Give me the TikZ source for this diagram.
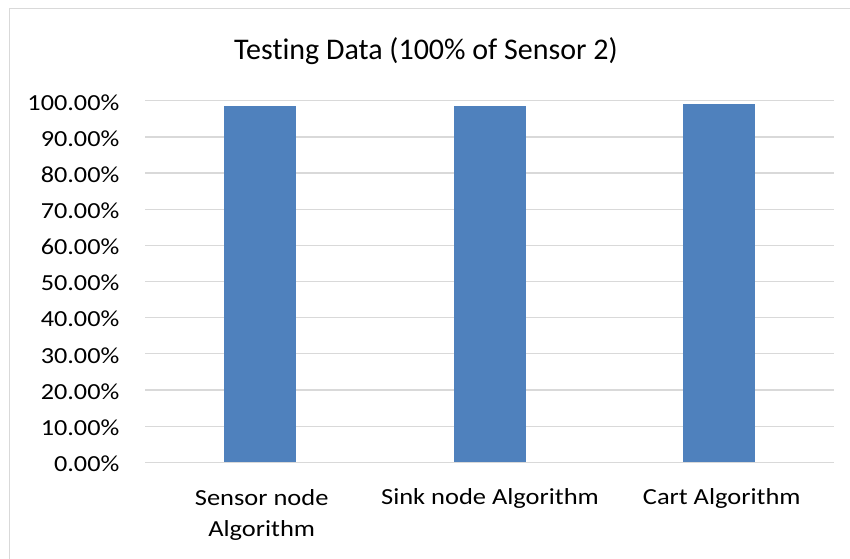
\documentclass[tikz,border=0pt]{standalone}
\usepackage{fontspec}
\setmainfont[Ligatures=NoCommon]{Carlito}
\newfontfamily\ticfont[Ligatures=NoCommon,FakeStretch=1.14]{Carlito}
\newfontfamily\catfont[Ligatures=NoCommon,FakeStretch=1.15]{Carlito}
\definecolor{barblue}{HTML}{4F81BD}
\definecolor{gridgray}{HTML}{D9D9D9}
\begin{document}
\begin{tikzpicture}[x=1pt,y=-1pt,
  grid/.style={draw=gridgray,line width=1.3pt},
  bar/.style={fill=barblue,draw=none},
  tick/.style={anchor=base east,inner sep=0pt,font=\ticfont\fontsize{23}{27}\selectfont},
  cat/.style={anchor=base,inner sep=0pt,font=\catfont\fontsize{23}{27}\selectfont},
  title/.style={anchor=base,inner sep=0pt,font=\fontsize{30}{34}\selectfont}]
\useasboundingbox (0,0) rectangle (850,558);
\fill[white] (0,0) rectangle (850,558);
\draw[draw=gridgray,line width=1.3pt] (9.5,600) -- (9.5,8.5) -- (900,8.5);
% gridlines and tick labels
\foreach \i/\lab in {0/0.00,1/10.00,2/20.00,3/30.00,4/40.00,5/50.00,6/60.00,7/70.00,8/80.00,9/90.00,10/100.00}{
  \pgfmathsetmacro{\yy}{462.3-36.16*\i}
  \draw[grid] (145,\yy) -- (834,\yy);
  \node[tick] (t\i) at (119.5,\yy+9.3) {\lab\%};
}
% bars
\fill[bar] (224,462.3) rectangle (296,106);
\fill[bar] (453.5,462.3) rectangle (525.5,106);
\fill[bar] (683,462.3) rectangle (755,104);
\node[title] (ttl) at (426,59.3) {Testing Data (100\% of Sensor 2)};
\node[cat] (c1a) at (261.7,505.5) {Sensor node};
\node[cat] (c1b) at (261.7,536.5) {Algorithm};
\node[cat] (c2) at (490,504.5) {Sink node Algorithm};
\node[cat] (c3) at (721.7,504.5) {Cart Algorithm};
\end{tikzpicture}
\end{document}
